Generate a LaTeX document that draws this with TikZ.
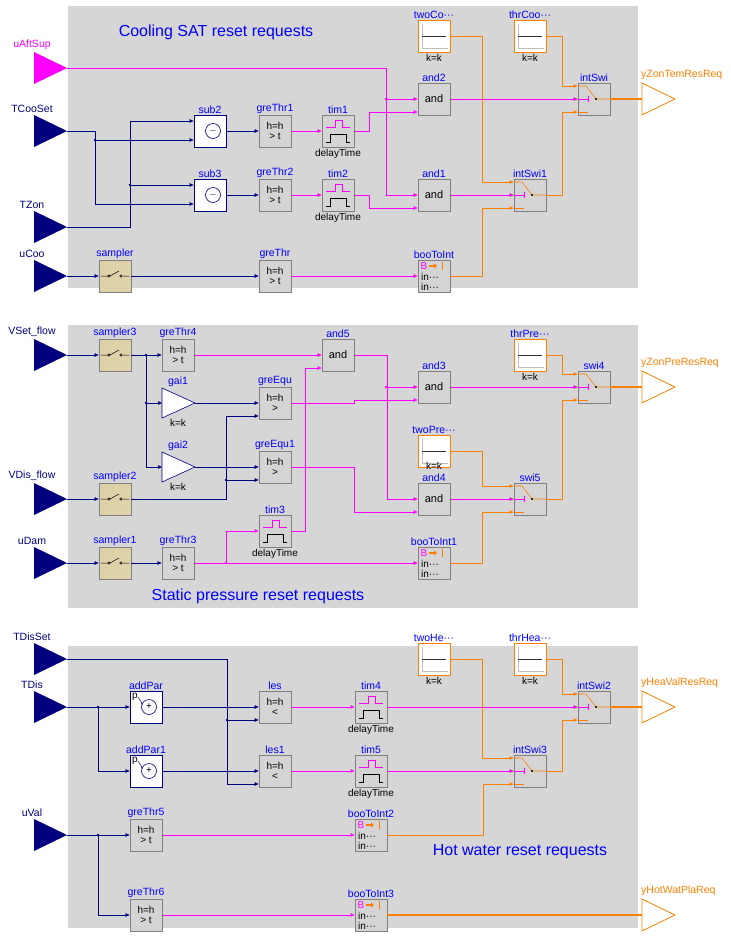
\documentclass[tikz,border=0pt]{standalone}
\usepackage{fontspec}
\setmainfont{Liberation Sans}
\usetikzlibrary{arrows.meta}
\definecolor{navy}{RGB}{0,0,127}
\definecolor{mag}{RGB}{255,0,255}
\definecolor{org}{RGB}{255,127,0}
\definecolor{panel}{RGB}{214,214,214}
\definecolor{blkgray}{RGB}{212,212,212}
\definecolor{tan}{RGB}{221,210,168}
\tikzset{
  blk/.style={draw=black!50, fill=blkgray, line width=0.8pt, minimum size=32pt,
    inner sep=0pt, align=center, font=\fontsize{10}{9}\selectfont},
  lbl/.style={text=blue, font=\fontsize{10.5}{11}\selectfont, inner sep=1pt},
  sub/.style={text=black, font=\fontsize{10}{10}\selectfont, inner sep=1pt},
  wire/.style={line width=0.6pt, -{Triangle[length=4pt,width=3.5pt]}},
  nv/.style={wire, navy},
  mg/.style={wire, mag},
  og/.style={wire, org, line width=0.8pt},
  outwire/.style={draw=org, line width=1.1pt},
  title/.style={text=blue, font=\fontsize{16}{18}\selectfont},
}
% gray block with port coordinates
\newcommand{\gblk}[5]{
  \node[blk,label={[lbl]above:#4}] (#1) at (#2,#3) {#5};
  \coordinate (#1-a) at ([yshift=13pt]#1.west);
  \coordinate (#1-c) at ([yshift=-13pt]#1.west);
  \coordinate (#1-u) at ([yshift=10pt]#1.west);
  \coordinate (#1-l) at ([yshift=-9pt]#1.west);
}
\newcommand{\inport}[4]{
  \fill[#3] (34,{#2-16}) -- (67,#2) -- (34,{#2+16}) -- cycle;
  \coordinate (#1) at (67,#2);
  \node[lbl,text=#3,anchor=south] (#1-lbl) at (32,{#2-17}) {#4};
}
\newcommand{\outport}[3]{
  \draw[org,line width=0.8pt] (642,{#2-16}) -- (675,#2) -- (642,{#2+16}) -- cycle;
  \coordinate (#1) at (642,#2);
  \node[lbl,text=org,anchor=south west] (#1-lbl) at (640,{#2-18}) {#3};
}
\newcommand{\swi}[4]{
  \gblk{#1}{#2}{#3}{#4}{}
  \draw[org,line width=0.6pt] ([shift={(-16,-13)}]#1.center) -- ++(8,0)
    -- ([shift={(2,0)}]#1.center) -- ([shift={(16,0)}]#1.center);
  \fill ([shift={(2,0)}]#1.center) circle (1.1pt);
  \draw[org,line width=0.6pt] ([shift={(-16,13)}]#1.center) -- ++(10,0);
  \draw[mag,line width=0.6pt] ([shift={(-16,0)}]#1.center) -- ++(10,0)
    ([shift={(-6,-3)}]#1.center) -- ++(0,6);
}
\newcommand{\tim}[4]{
  \gblk{#1}{#2}{#3}{#4}{}
  \draw[mag,line width=0.6pt] ([shift={(-12,-4)}]#1.center) -- ++(9,0) -- ++(0,-7)
    -- ++(7,0) -- ++(0,7) -- ++(8,0);
  \draw[black,line width=0.6pt] ([shift={(-12,11)}]#1.center) -- ++(4,0) -- ++(0,-8)
    -- ++(16,0) -- ++(0,8) -- ++(4,0);
  \node[sub,anchor=north] (#1-d) at ([yshift=-1pt]#1.south) {delayTime};
}
\newcommand{\btoi}[4]{
  \gblk{#1}{#2}{#3}{#4}{}
  \node[text=mag,font=\fontsize{10}{10}\selectfont,inner sep=0pt] (#1-b) at ([shift={(-10,-10)}]#1.center) {B};
  \draw[org,line width=2pt,-{Triangle[length=3pt,width=5pt]}] ([shift={(-5,-10)}]#1.center) -- ++(8,0);
  \draw[org,line width=0.6pt] ([shift={(8,-14)}]#1.center) -- ++(0,8);
  \node[sub,anchor=west,inner sep=0pt] (#1-i) at ([shift={(-13,1)}]#1.center) {in···};
  \node[sub,anchor=west,inner sep=0pt] (#1-j) at ([shift={(-13,11)}]#1.center) {in···};
}
\newcommand{\cst}[5]{
  \node[blk,fill=white,draw=org,label={[lbl]above:#4}] (#1) at (#2,#3) {};
  \draw[black!25,line width=0.5pt] ([shift={(-12,-12)}]#1.center) -- ++(0,24) -- ++(26,0);
  \draw[black!80,line width=0.7pt] ([shift={(-12,0)}]#1.center) -- ++(24,0);
  \node[sub,anchor=north] (#1-k) at ([yshift=#5]#1.south) {k=k};
}
\newcommand{\smp}[4]{
  \gblk{#1}{#2}{#3}{#4}{}
  \node[blk,fill=tan] at (#1) {};
  \draw[black,line width=0.5pt] ([shift={(-14,0)}]#1.center) -- ++(7,0)
    ([shift={(-5,0)}]#1.center) -- ++(9,-5) ([shift={(8,0)}]#1.center) -- ++(6,0);
  \draw[black,line width=0.5pt] ([shift={(-6,0)}]#1.center) circle (1.3pt)
    ([shift={(6,0)}]#1.center) circle (1.3pt);
}
\newcommand{\msum}[5]{
  \gblk{#1}{#2}{#3}{#4}{}
  \node[blk,fill=white,draw=navy] at (#1) {};
  \draw[navy,line width=0.6pt,fill=white] ([shift={(3,0)}]#1.center) circle (7.5pt);
  \node[inner sep=0pt,font=\fontsize{10}{10}\selectfont] (#1-s) at ([shift={(3,0)}]#1.center) {#5};
}
\newcommand{\gain}[4]{
  \draw[navy,fill=white,line width=0.6pt] (#2-16,#3-15) -- (#2+17,#3) -- (#2-16,#3+15) -- cycle;
  \coordinate (#1-in) at (#2-16,#3);
  \coordinate (#1-out) at (#2+17,#3);
  \node[lbl,anchor=south] (#1-lbl) at (#2,#3-15) {#4};
  \node[sub,anchor=north] (#1-k) at (#2,#3+15) {k=k};
}
\newcommand{\jdot}[2]{\fill[#1] #2 circle (1.4pt);}

\begin{document}
\begin{tikzpicture}[x=1pt,y=-1pt]
\useasboundingbox (0,0) rectangle (731,938);
\fill[panel] (68,6) rectangle (638,288);
\fill[panel] (68,325) rectangle (638,608);
\fill[panel] (68,646) rectangle (638,928);
\node[title] (t1) at (216,32) {Cooling SAT reset requests};
\node[title] (t2) at (258,596) {Static pressure reset requests};
\node[title] (t3) at (520,852) {Hot water reset requests};

% cooling SAT
\inport{uAftSup}{68}{mag}{uAftSup}
\inport{TCooSet}{131}{navy}{TCooSet}
\inport{TZon}{227}{navy}{TZon}
\inport{uCoo}{276}{navy}{uCoo}
\outport{yZonTemResReq}{99}{yZonTemResReq}
\msum{sub2}{210}{131}{sub2}{$-$}
\msum{sub3}{210}{195}{sub3}{$-$}
\gblk{greThr1}{275}{131}{greThr1}{h=h\\[1pt]> t}
\gblk{greThr2}{275}{195}{greThr2}{h=h\\[1pt]> t}
\tim{tim1}{338}{131}{tim1}
\tim{tim2}{338}{195}{tim2}
\gblk{and2}{434}{99}{and2}{\fontsize{11}{11}\selectfont and}
\gblk{and1}{434}{195}{and1}{\fontsize{11}{11}\selectfont and}
\cst{twoCoo}{434}{36}{twoCo···}{-1pt}
\cst{thrCoo}{530}{36}{thrCoo···}{-1pt}
\swi{intSwi}{594}{99}{intSwi}
\swi{intSwi1}{530}{195}{intSwi1}
\smp{sampler}{115}{276}{sampler}
\gblk{greThr}{275}{276}{greThr}{h=h\\[1pt]> t}
\btoi{booToInt}{434}{276}{booToInt}

\draw[nv] (TCooSet) -- ++(28,0) |- (sub2-l);
\draw[nv] (TCooSet) -- ++(28,0) |- (sub3-l);
\draw[nv] (TZon) -- ++(63,0) |- (sub2-u);
\draw[nv] (TZon) -- ++(63,0) |- (sub3-u);
\jdot{navy}{(95,140)} \jdot{navy}{(130,185)}
\draw[nv] (sub2) -- (greThr1);
\draw[nv] (sub3) -- (greThr2);
\draw[mg] (greThr1) -- (tim1);
\draw[mg] (greThr2) -- (tim2);
\draw[mg] (tim1.east) -- ++(15,0) |- (and2-c);
\draw[mg] (tim2.east) -- ++(15,0) |- (and1-c);
\draw[mg] (uAftSup) -- ++(319,0) |- (and2.west);
\draw[mg] (uAftSup) -- ++(319,0) |- (and1.west);
\jdot{mag}{(386,99)}
\draw[mg] (and2) -- (intSwi);
\draw[mg] (and1) -- (intSwi1);
\draw[og] (twoCoo.east) -- ++(32,0) |- (intSwi1-a);
\draw[og] (thrCoo.east) -- ++(16,0) |- (intSwi-a);
\draw[og] (intSwi1.east) -- ++(16,0) |- (intSwi-c);
\draw[og] (booToInt.east) -- ++(32,0) |- (intSwi1-c);
\draw[outwire] (intSwi.east) -- (yZonTemResReq);
\draw[nv] (uCoo) -- (sampler);
\draw[nv] (sampler) -- (greThr);
\draw[mg] (greThr) -- (booToInt);

% static pressure
\inport{VSet}{355}{navy}{VSet\_flow}
\inport{VDis}{499}{navy}{VDis\_flow}
\inport{uDam}{563}{navy}{uDam}
\outport{yZonPreResReq}{387}{yZonPreResReq}
\smp{sampler3}{115}{355}{sampler3}
\smp{sampler2}{115}{499}{sampler2}
\smp{sampler1}{115}{563}{sampler1}
\gblk{greThr4}{178}{355}{greThr4}{h=h\\[1pt]> t}
\gblk{greThr3}{178}{563}{greThr3}{h=h\\[1pt]> t}
\gain{gai1}{178}{403}{gai1}
\gain{gai2}{178}{467}{gai2}
\gblk{greEqu}{275}{403}{greEqu}{h=h\\[1pt]>}
\gblk{greEqu1}{275}{467}{greEqu1}{h=h\\[1pt]>}
\tim{tim3}{275}{531}{tim3}
\gblk{and5}{338}{355}{and5}{\fontsize{11}{11}\selectfont and}
\gblk{and3}{434}{387}{and3}{\fontsize{11}{11}\selectfont and}
\gblk{and4}{434}{499}{and4}{\fontsize{11}{11}\selectfont and}
\cst{twoPre}{434}{451}{twoPre···}{6pt}
\cst{thrPre}{530}{355}{thrPre···}{-1pt}
\btoi{booToInt1}{434}{563}{booToInt1}
\swi{swi4}{594}{387}{swi4}
\swi{swi5}{530}{499}{swi5}

\draw[nv] (VSet) -- (sampler3);
\draw[nv] (sampler3) -- (greThr4);
\draw[nv] (sampler3.east) -- ++(15,0) |- (gai1-in);
\draw[nv] (sampler3.east) -- ++(15,0) |- (gai2-in);
\jdot{navy}{(146,355)} \jdot{navy}{(146,403)}
\draw[nv] (gai1-out) -- (greEqu);
\draw[nv] (gai2-out) -- (greEqu1);
\draw[nv] (VDis) -- (sampler2);
\draw[nv] (sampler2.east) -- ++(95,0) |- (greEqu-c);
\draw[nv] (sampler2.east) -- ++(95,0) |- (greEqu1-c);
\jdot{navy}{(226,480)}
\draw[nv] (uDam) -- (sampler1);
\draw[nv] (sampler1) -- (greThr3);
\draw[mg] (greThr4) -- (and5);
\draw[mg] (and5.east) -- ++(33,0) |- (and3.west);
\draw[mg] (and5.east) -- ++(33,0) |- (and4.west);
\jdot{mag}{(386,387)}
\draw[mg] (greEqu.east) -- ++(63,0) |- (and3-c);
\draw[mg] (greEqu1.east) -- ++(63,0) |- (and4-c);
\draw[mg] (greThr3) -- (booToInt1);
\draw[mg] (greThr3.east) -- ++(32,0) |- (tim3.west);
\jdot{mag}{(226,563)}
\draw[mg] (tim3.east) -- ++(14,0) |- (and5-c);
\draw[mg] (and3) -- (swi4);
\draw[mg] (and4) -- (swi5);
\draw[og] (thrPre.east) -- ++(16,0) |- (swi4-a);
\draw[og] (twoPre.east) -- ++(32,0) |- (swi5-a);
\draw[og] (swi5.east) -- ++(16,0) |- (swi4-c);
\draw[og] (booToInt1.east) -- ++(32,0) |- (swi5-c);
\draw[outwire] (swi4.east) -- (yZonPreResReq);

% hot water
\inport{TDisSet}{659}{navy}{TDisSet}
\inport{TDis}{707}{navy}{TDis}
\inport{uVal}{835}{navy}{uVal}
\outport{yHeaValResReq}{707}{yHeaValResReq}
\outport{yHotWatPlaReq}{915}{yHotWatPlaReq}
\msum{addPar}{146}{707}{addPar}{+}
\msum{addPar1}{146}{771}{addPar1}{+}
\node[sub,inner sep=0pt] (addPar-p) at ([shift={(-11,-10)}]addPar.center) {p};
\node[sub,inner sep=0pt] (addPar1-p) at ([shift={(-11,-10)}]addPar1.center) {p};
\draw[navy,line width=0.5pt] (addPar-p.east) .. controls ([shift={(-4,-4)}]addPar.center) .. ([shift={(-4,-2)}]addPar.center);
\draw[navy,line width=0.5pt] (addPar1-p.east) .. controls ([shift={(-4,-4)}]addPar1.center) .. ([shift={(-4,-2)}]addPar1.center);
\gblk{les}{275}{707}{les}{h=h\\[1pt]<}
\gblk{les1}{275}{771}{les1}{h=h\\[1pt]<}
\tim{tim4}{371}{707}{tim4}
\tim{tim5}{371}{771}{tim5}
\gblk{greThr5}{146}{835}{greThr5}{h=h\\[1pt]> t}
\gblk{greThr6}{146}{915}{greThr6}{h=h\\[1pt]> t}
\btoi{booToInt2}{371}{835}{booToInt2}
\btoi{booToInt3}{371}{915}{booToInt3}
\cst{twoHea}{434}{659}{twoHe···}{-1pt}
\cst{thrHea}{530}{659}{thrHea···}{-1pt}
\swi{intSwi2}{594}{707}{intSwi2}
\swi{intSwi3}{530}{771}{intSwi3}

\draw[nv] (TDisSet) -- ++(160,0) |- (les-c);
\draw[nv] (TDisSet) -- ++(160,0) |- (les1-c);
\jdot{navy}{(227,720)}
\draw[nv] (TDis) -- (addPar);
\draw[nv] (TDis) -- ++(31,0) |- (addPar1.west);
\jdot{navy}{(98,707)}
\draw[nv] (addPar) -- (les);
\draw[nv] (addPar1) -- (les1);
\draw[mg] (les) -- (tim4);
\draw[mg] (les1) -- (tim5);
\draw[mg] (tim4) -- (intSwi2);
\draw[mg] (tim5) -- (intSwi3);
\draw[nv] (uVal) -- (greThr5);
\draw[nv] (uVal) -- ++(31,0) |- (greThr6.west);
\jdot{navy}{(98,835)}
\draw[mg] (greThr5) -- (booToInt2);
\draw[mg] (greThr6) -- (booToInt3);
\draw[og] (twoHea.east) -- ++(32,0) |- (intSwi3-a);
\draw[og] (thrHea.east) -- ++(16,0) |- (intSwi2-a);
\draw[og] (intSwi3.east) -- ++(16,0) |- (intSwi2-c);
\draw[og] (booToInt2.east) -- ++(96,0) |- (intSwi3-c);
\draw[outwire] (intSwi2.east) -- (yHeaValResReq);
\draw[outwire] (booToInt3.east) -- (yHotWatPlaReq);
\end{tikzpicture}
\end{document}
